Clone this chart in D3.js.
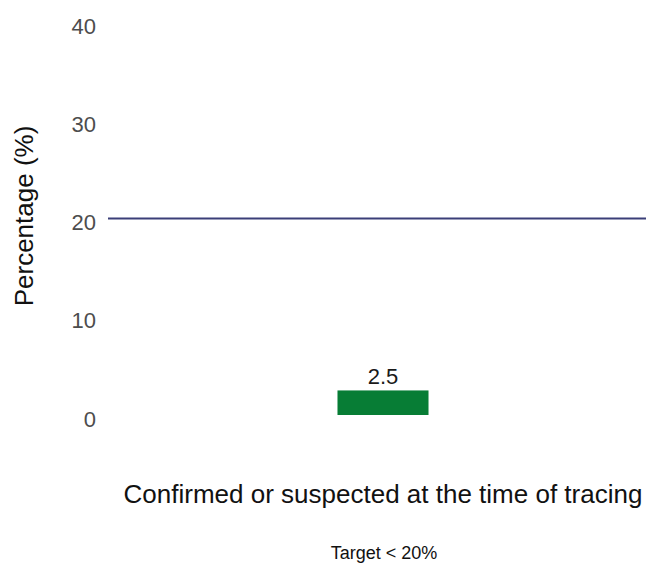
<!DOCTYPE html>
<html>
<head>
<meta charset="utf-8">
<script src="https://cdn.jsdelivr.net/npm/d3@7"></script>
<style>
  body { margin: 0; background: #fff; }
  svg { display: block; font-family: "Liberation Sans", Arial, sans-serif; }
</style>
</head>
<body>
<svg width="646" height="564"></svg>
<script>
// chart data
var categories = ['Confirmed or suspected at the time of tracing']
var values = [2.5]
var yTicks = [0, 10, 20, 30, 40]
var target = 20
var targetLabel = 'Target < 20%'
var yTitle = 'Percentage (%)'

var svg = d3.select('svg')

var mapX = d3.scaleBand()
    .domain(categories)
    .range([108, 658])
    .paddingInner(0.716)
    .paddingOuter(0.716)

var mapY = d3.scaleLinear()
    .domain([0, 40])
    .range([415, 22])

// y axis: labels only, no line, no ticks
var yAxis = d3.axisLeft(mapY)
    .tickValues(yTicks)
    .tickSize(0)
    .tickPadding(0)

var gy = svg.append('g')
    .attr('transform', 'translate(96,0)')
    .call(yAxis)
gy.select('.domain').remove()
gy.selectAll('text')
    .attr('dy', '0.5em')
    .style('font-size', '22px')
    .style('font-family', '"Liberation Sans", Arial, sans-serif')
    .attr('fill', '#4d4d4d')

// target line
svg.append('line')
    .attr('x1', 108)
    .attr('x2', 658)
    .attr('y1', mapY(target))
    .attr('y2', mapY(target))
    .attr('stroke', '#3b3f78')
    .attr('stroke-width', 2)

// bars
svg.selectAll('rect.bar')
    .data(values)
    .enter()
    .append('rect')
    .attr('class', 'bar')
    .attr('x', function(d, i) { return mapX(categories[i]) })
    .attr('width', mapX.bandwidth())
    .attr('y', function(d) { return mapY(d) })
    .attr('height', function(d) { return mapY(0) - mapY(d) })
    .attr('fill', '#077d35')

// value labels
svg.selectAll('text.val')
    .data(values)
    .enter()
    .append('text')
    .attr('class', 'val')
    .attr('x', function(d, i) { return mapX(categories[i]) + mapX.bandwidth() / 2 })
    .attr('y', function(d) { return mapY(d) - 6 })
    .attr('text-anchor', 'middle')
    .style('font-size', '22px')
    .attr('fill', '#1a1a1a')
    .text(function(d) { return d })

// x category label
svg.selectAll('text.cat')
    .data(categories)
    .enter()
    .append('text')
    .attr('class', 'cat')
    .attr('x', function(d) { return mapX(d) + mapX.bandwidth() / 2 })
    .attr('y', 503)
    .attr('text-anchor', 'middle')
    .style('font-size', '26px')
    .attr('fill', '#111')
    .text(function(d) { return d })

// y title
svg.append('text')
    .attr('transform', 'translate(33,216) rotate(-90)')
    .attr('text-anchor', 'middle')
    .style('font-size', '26px')
    .attr('fill', '#111')
    .text(yTitle)

// target caption
svg.append('text')
    .attr('x', 384)
    .attr('y', 559)
    .attr('text-anchor', 'middle')
    .style('font-size', '18px')
    .attr('fill', '#111')
    .text(targetLabel)
</script>
</body>
</html>
